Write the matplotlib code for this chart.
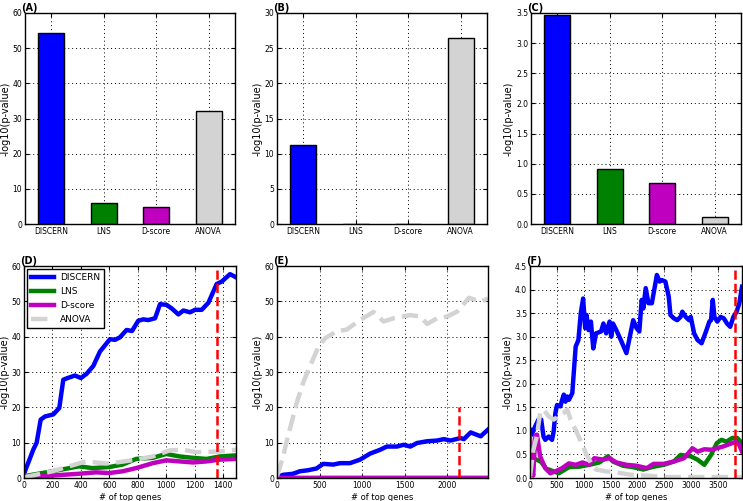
import matplotlib
matplotlib.use('Agg')
import matplotlib.pyplot as plt

# nomes e cores dos metodos
methods = ['DISCERN', 'LNS', 'D-score', 'ANOVA']
colors = ['#0000ff', '#008000', '#bf00bf', 'lightgray']

# barras (A), (B), (C)
bars_a = [54.2, 6.0, 4.7, 32.0]
bars_b = [11.3, 0.0, 0.0, 26.4]
bars_c = [3.47, 0.91, 0.68, 0.11]

# painel (D)
d_disc_x = [0, 65, 89, 117, 147, 206, 248, 276, 300, 358, 400, 440, 487, 534, 604, 639,
            674, 721, 759, 803, 839, 873, 921, 956, 1002, 1038, 1085, 1120, 1167, 1202,
            1249, 1296, 1354, 1390, 1448, 1490]
d_disc_y = [1.2, 8.0, 10.0, 16.5, 17.4, 18.0, 19.8, 27.8, 28.2, 29.0, 28.3, 29.5, 31.7,
            35.8, 39.3, 39.1, 39.8, 41.9, 41.6, 44.5, 44.9, 44.7, 45.2, 49.2, 49.0, 48.0,
            46.3, 47.4, 46.9, 47.6, 47.6, 49.6, 54.9, 55.6, 57.7, 56.8]
d_lns_x = [0, 199, 387, 481, 599, 693, 788, 905, 1000, 1094, 1188, 1283, 1377, 1490]
d_lns_y = [0.5, 1.9, 3.3, 2.8, 3.1, 3.8, 5.4, 5.7, 6.8, 6.1, 5.7, 5.4, 6.1, 6.4]
d_dsc_x = [0, 199, 387, 505, 599, 693, 788, 905, 1000, 1094, 1188, 1283, 1377, 1490]
d_dsc_y = [0.2, 0.7, 1.2, 1.6, 1.4, 1.9, 2.8, 4.2, 5.0, 4.7, 4.4, 4.7, 5.2, 5.4]
d_anova_x = [0, 199, 434, 576, 670, 788, 905, 1023, 1117, 1212, 1377, 1490]
d_anova_y = [0.2, 1.9, 4.7, 4.1, 4.5, 5.2, 6.1, 7.8, 8.0, 7.3, 7.5, 8.0]
d_cut = 1353

# painel (E)
e_disc_x = [0, 71, 189, 268, 366, 465, 543, 661, 740, 858, 976, 1094, 1213, 1291, 1409,
            1488, 1567, 1646, 1764, 1882, 1961, 2039, 2157, 2197, 2276, 2394, 2480]
e_disc_y = [0.2, 0.9, 1.2, 1.9, 2.2, 2.7, 4.0, 3.8, 4.2, 4.2, 5.2, 6.9, 8.0, 8.9, 8.9,
            9.4, 8.9, 9.9, 10.4, 10.6, 11.0, 10.6, 11.3, 11.0, 12.9, 11.8, 13.7]
e_zero_x = [0, 2480]
e_zero_y = [0.0, 0.0]
e_anova_x = [0, 71, 110, 169, 228, 307, 386, 484, 563, 700, 819, 976, 1134, 1252, 1370,
             1567, 1685, 1764, 1882, 2000, 2118, 2256, 2394, 2480]
e_anova_y = [0.5, 6.0, 10.0, 15.5, 21.0, 27.0, 31.5, 37.0, 39.5, 41.5, 42.0, 44.7, 47.0,
             44.3, 45.2, 46.1, 45.7, 43.6, 45.2, 45.7, 47.1, 51.0, 49.9, 50.8]
e_cut = 2140

# painel (F)
f_disc_x = [0, 30, 95, 158, 208, 252, 284, 347, 410, 441, 473, 504, 567, 599, 630, 662,
            694, 725, 788, 851, 902, 946, 990, 1028, 1053, 1091, 1135, 1179, 1230, 1324,
            1368, 1419, 1482, 1513, 1545, 1608, 1703, 1797, 1860, 1923, 1986, 2037, 2081,
            2112, 2156, 2207, 2270, 2314, 2364, 2415, 2459, 2522, 2585, 2617, 2680, 2743,
            2806, 2838, 2901, 2964, 2995, 3058, 3121, 3197, 3279, 3342, 3373, 3405, 3436,
            3490, 3550, 3610, 3670, 3730, 3790, 3850, 3900, 3950]
f_disc_y = [1.02, 0.92, 1.09, 1.24, 1.24, 0.88, 0.81, 0.88, 0.81, 0.99, 1.38, 1.55, 1.52,
            1.66, 1.77, 1.62, 1.73, 1.66, 1.80, 2.79, 2.93, 3.50, 3.81, 3.18, 3.46, 3.14,
            3.32, 2.75, 3.07, 3.11, 3.28, 3.07, 3.32, 3.00, 3.28, 3.14, 2.90, 2.65, 3.00,
            3.35, 3.18, 3.11, 3.78, 3.60, 4.03, 3.71, 3.71, 3.99, 4.31, 4.17, 4.20, 4.17,
            3.85, 3.46, 3.39, 3.35, 3.42, 3.53, 3.42, 3.35, 3.42, 3.07, 2.93, 2.86, 3.11,
            3.32, 3.35, 3.78, 3.42, 3.32, 3.42, 3.39, 3.28, 3.21, 3.42, 3.53, 3.71, 4.06]
f_lns_x = [0, 100, 200, 300, 347, 536, 725, 915, 1104, 1293, 1451, 1545, 1734, 1923,
           2112, 2302, 2491, 2680, 2806, 2995, 3121, 3248, 3374, 3480, 3570, 3660, 3770,
           3860, 3950]
f_lns_y = [0.50, 0.40, 0.35, 0.20, 0.18, 0.10, 0.23, 0.24, 0.28, 0.33, 0.46, 0.35, 0.26,
           0.23, 0.18, 0.24, 0.28, 0.35, 0.49, 0.46, 0.39, 0.28, 0.49, 0.74, 0.81, 0.77,
           0.85, 0.85, 0.74]
f_dsc_x = [0, 30, 60, 100, 130, 189, 284, 378, 473, 599, 725, 852, 978, 1104, 1198,
           1356, 1482, 1608, 1797, 1986, 2175, 2302, 2491, 2680, 2869, 3027, 3121, 3248,
           3374, 3480, 3600, 3720, 3840, 3900, 3950]
f_dsc_y = [0.85, 0.20, 0.05, 0.90, 0.92, 0.46, 0.21, 0.10, 0.14, 0.21, 0.31, 0.28, 0.33,
           0.28, 0.42, 0.39, 0.42, 0.33, 0.28, 0.26, 0.21, 0.30, 0.30, 0.35, 0.42, 0.63,
           0.56, 0.61, 0.60, 0.63, 0.67, 0.72, 0.77, 0.70, 0.56]
f_anova_x = [0, 63, 126, 189, 252, 347, 441, 536, 630, 694, 757, 851, 946, 1040, 1135,
             1230, 1419, 1608, 1860, 2175, 2490, 3000, 3500, 3950]
f_anova_y = [0.04, 0.60, 0.88, 1.38, 1.45, 1.31, 1.24, 1.31, 1.38, 1.45, 1.24, 1.02, 0.78,
             0.53, 0.32, 0.18, 0.14, 0.12, 0.07, 0.05, 0.02, 0.02, 0.02, 0.02]
f_cut = 3825

W, H = 743, 501
fig = plt.figure(figsize=(W / 100, H / 100), dpi=100)


def px_axes(left, top, right, bottom):
    return fig.add_axes([left / W, 1 - bottom / H, (right - left) / W, (bottom - top) / H])


def estilo(ax, label):
    ax.grid(True, color='k', linestyle=(0, (1, 3)), linewidth=0.7)
    ax.set_axisbelow(True)
    ax.tick_params(labelsize=5.5, direction='in', length=3, top=True, right=True, pad=2)
    for s in ax.spines.values():
        s.set_linewidth(1)
    ax.set_ylabel('-log10(p-value)', fontsize=7, labelpad=1.5)
    ax.text(-0.02, 1.0, label, transform=ax.transAxes, ha='left', va='bottom',
            fontsize=7, fontweight='bold')


top_boxes = [(25, 13, 235, 224), (277, 13, 487, 224), (531, 13, 741, 224)]
bar_sets = [bars_a, bars_b, bars_c]
ylims = [(0, 60), (0, 30), (0, 3.5)]
for box, vals, yl, lab in zip(top_boxes, bar_sets, ylims, ['(A)', '(B)', '(C)']):
    ax = px_axes(*box)
    ax.bar(range(4), vals, width=0.5, color=colors, edgecolor='k', linewidth=1)
    ax.set_xlim(-0.5, 3.5)
    ax.set_ylim(*yl)
    ax.set_xticks(range(4))
    ax.set_xticklabels(methods)
    estilo(ax, lab)
    if yl[1] < 5:
        ax.set_yticks([0, 0.5, 1.0, 1.5, 2.0, 2.5, 3.0, 3.5])
        ax.set_yticklabels(['0.0', '0.5', '1.0', '1.5', '2.0', '2.5', '3.0', '3.5'])

bot_boxes = [(24, 266, 236, 478), (277, 266, 488, 478), (530, 266, 742, 478)]
lw = 3.2

# (D)
ax = px_axes(*bot_boxes[0])
ax.plot(d_disc_x, d_disc_y, color=colors[0], lw=lw, label='DISCERN')
ax.plot(d_lns_x, d_lns_y, color=colors[1], lw=lw, label='LNS')
ax.plot(d_dsc_x, d_dsc_y, color=colors[2], lw=lw, label='D-score')
ax.plot(d_anova_x, d_anova_y, color=colors[3], lw=lw, ls='--', label='ANOVA')
ax.plot([d_cut, d_cut], [0, 60], color='red', lw=1.8, ls='--')
ax.set_xlim(0, 1490)
ax.set_ylim(0, 60)
ax.set_xticks(range(0, 1401, 200))
ax.set_xlabel('# of top genes', fontsize=6, labelpad=2)
estilo(ax, '(D)')
ax.legend(loc='upper left', fontsize=6.5, handlelength=2.6, borderpad=0.45,
          labelspacing=0.55, handletextpad=0.6, fancybox=False, framealpha=1,
          edgecolor='k', borderaxespad=0.3)

# (E)
ax = px_axes(*bot_boxes[1])
ax.plot(e_disc_x, e_disc_y, color=colors[0], lw=lw)
ax.plot(e_zero_x, e_zero_y, color=colors[1], lw=lw)
ax.plot(e_zero_x, e_zero_y, color=colors[2], lw=lw)
ax.plot(e_anova_x, e_anova_y, color=colors[3], lw=lw, ls='--')
ax.plot([e_cut, e_cut], [0, 20], color='red', lw=1.8, ls='--')
ax.set_xlim(0, 2480)
ax.set_ylim(0, 60)
ax.set_xticks(range(0, 2001, 500))
ax.set_xlabel('# of top genes', fontsize=6, labelpad=2)
estilo(ax, '(E)')

# (F)
ax = px_axes(*bot_boxes[2])
ax.plot(f_disc_x, f_disc_y, color=colors[0], lw=lw)
ax.plot(f_lns_x, f_lns_y, color=colors[1], lw=lw)
ax.plot(f_dsc_x, f_dsc_y, color=colors[2], lw=lw)
ax.plot(f_anova_x, f_anova_y, color=colors[3], lw=lw, ls='--')
ax.plot([f_cut, f_cut], [0, 4.5], color='red', lw=1.8, ls='--')
ax.set_xlim(0, 3950)
ax.set_ylim(0, 4.5)
ax.set_xticks(range(0, 3501, 500))
ax.set_yticks([0, 0.5, 1.0, 1.5, 2.0, 2.5, 3.0, 3.5, 4.0, 4.5])
ax.set_yticklabels(['0.0', '0.5', '1.0', '1.5', '2.0', '2.5', '3.0', '3.5', '4.0', '4.5'])
ax.set_xlabel('# of top genes', fontsize=6, labelpad=2)
estilo(ax, '(F)')

plt.savefig('out.png', dpi=100)
